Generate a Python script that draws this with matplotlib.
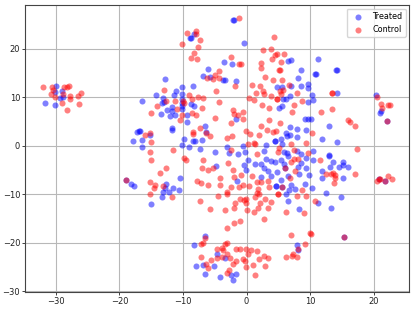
import matplotlib
matplotlib.use("Agg")
import matplotlib.pyplot as plt

treated_x = [
    -31.7, -30.1, -29.9, -30.1, -29.1, -29.4, -28.8, -17.9, -17.2, -16.9,
    -2.1, -1.9, -8.9, -8.7, -8.3, -0.4, -3.5, -2.3, -6.1, -6.9, -5.7, -3.7, -3.4, -1.6, -12.9,
    -10.2, -8.4, -11.1, -14.3, -13.2, -11.4, -16.4, -10.1, -10.1, -10.1, -10.1, -10.1, -13.3, -13.0, -12.5,
    -11.8, -11.8, -13.4, -12.1, -11.2, -8.8, -8.3, -9.4, -9.3, -11.8, -11.7, -6.5, -6.4, -9.8, -10.2,
    -9.1, -8.5, -8.1, -7.0, -7.3, -5.0, -3.0, -2.7, -0.5, -0.3, 3.0, 2.7, 4.4, 4.8, -1.7,
    -16.8, -16.5, -16.4, -15.2, -1.3, 5.1,
    11.2, 6.5, 7.0, 8.5, 10.8, 11.0, 14.0, 14.3, 8.1, 9.6, 9.6, 8.5, 7.0, 5.5, 10.3, 14.2, 6.8, 5.8, 6.2,
    9.7, 10.5, 5.5, 20.4, 21.1, 21.0, 9.2, 9.6, 10.1, 12.9, 6.8, 7.9, 9.3, 11.9, 14.2, 6.2, 6.8, 6.4, 7.9,
    5.4, 4.5, 5.5, 8.0, 10.4, 5.9, 6.3, 8.6, 13.0, 22.1,
    -18.9, -18.1, -17.7,
    -4.8, -10.5, -12.6, -12.9, -13.1, -12.2, -11.5, -10.6, -13.3, -15.1, -6.5, -8.2, -4.6, -3.4, -8.0, -6.8,
    -5.1, -6.5, -4.1, -2.5, -1.6, -2.1, -1.5, -0.1, -0.4, 0.3, 1.4, 2.2, 3.1, 2.8, 3.4, 3.9, 2.2, 4.8, 4.6, 3.9, 4.4,
    5.4, 5.9, 6.5, 9.4, 10.4, 8.5, 8.1, 9.4, 6.0, 8.3, 6.5, 9.9, 11.8, 11.8, 13.0, 13.6, 13.1, 14.5, 15.1, 15.2,
    16.0, 15.2, 5.4, 4.7, 7.0, 6.6, 7.6, 6.2, 9.2, 10.3, 12.5, 14.9, 11.3, 6.5, 8.2, 13.3, 7.9, 8.1, 20.8, 21.7,
    5.5, 15.3,
]
treated_y = [
    8.9, 8.4, 12.4, 11.0, 11.2, 9.9, 10.0, 0.9, 2.8, 3.0,
    26.0, 26.0, 22.1, 22.1, 23.1, 21.1, 17.2, 16.9, 15.8, 14.3, 14.2, 13.5, 13.5, 13.3, 13.8,
    12.1, 12.2, 11.3, 10.4, 9.9, 10.4, 9.3, 10.6, 9.6, 8.7, 8.2, 7.6, 8.7, 9.1, 7.4,
    7.9, 7.2, 6.5, 6.1, 6.3, 8.5, 8.2, 6.3, 4.9, 3.6, 3.2, 4.1, 2.8, 1.4, 0.1,
    -0.3, 1.0, 1.0, 1.1, -0.6, -1.2, -0.2, -1.6, -0.1, -1.2, 0.1, -1.1, 0.9, 12.0, 5.4,
    3.0, 1.2, -0.3, 2.1, -1.8, 7.7,
    17.9, 17.5, 17.6, 15.5, 14.8, 14.8, 15.5, 15.5, 14.0, 12.8, 11.8, 12.2, 12.4, 12.0, 10.4, 10.9, 10.2, 9.6, 9.7,
    9.1, 9.4, 8.2, 10.4, 7.2, 6.8, 5.6, 5.6, 5.6, 4.0, 3.8, 3.5, 3.2, 1.3, 0.8, 2.7, 2.3, 1.9, 1.7,
    1.3, 0.9, 0.3, -1.0, -1.1, -1.4, -1.6, -1.7, -2.0, 5.0,
    -7.0, -8.0, -8.4,
    -4.1, -6.6, -8.0, -8.8, -9.5, -9.5, -8.7, -9.1, -10.6, -12.0, -18.7, -20.4, -22.3, -23.2, -24.9, -24.5,
    -24.7, -26.5, -27.1, -26.7, -26.4, -27.6, -7.2, -5.0, -3.9, -3.0, -3.8, -3.8, -2.7, -4.7, -5.2, -6.2, -6.5, -5.5, -8.4, -3.2, -3.3,
    -3.0, -3.8, -2.1, -2.5, -3.0, -3.6, -4.3, -4.6, -4.5, -5.8, -6.3, -6.1, -5.2, -6.7, -2.2, -3.4, -4.3, -4.3, -4.0, -3.3,
    -4.3, -6.7, -7.1, -8.4, -8.2, -9.1, -9.0, -9.9, -8.0, -8.7, -9.8, -10.6, -11.8, -11.5, -13.1, -12.8, -20.5, -21.5, -6.9, -7.2,
    -8.6, -18.8,
]
control_x = [
    -32.0, -30.6, -30.8, -30.4, -30.1, -28.7, -28.3, -28.0, -28.8, -29.1, -27.8, -27.8, -28.2, -26.5, -26.1, -26.3,
    -1.2, -9.3, -8.0, -8.0, -7.3, -10.1, -7.6, -8.2, -8.8, -7.8, -2.5, -1.2, -0.8, 2.6, 3.9, 4.8, 4.4, 4.0, 2.3, 2.3,
    5.1, -4.3, -4.9, -4.3, -5.2, -6.2, 2.9, 4.1, 0.8, 2.1, -1.8, -13.0, -4.8, 1.5, 2.6, 2.7, 3.8, 0.4, 1.2,
    -9.1, -8.6, -7.7, -6.9, -12.6, -11.2, -10.0, -9.9, -14.1, -4.3, 2.4, 4.8, 3.6, -7.0, -10.9, -15.0,
    -2.1, -0.6, -1.9, -1.3, -10.1, -8.6, -8.0, -10.4, -5.0, -0.6, -2.4, 3.5, 2.3, -7.3, -8.5, -8.4, -6.4, -5.7,
    -3.1, -2.3, -0.1, 0.6, 2.0, 3.2, 4.1, 0.2, 1.2, 1.4, -16.0, -15.2, -15.1, -15.2, -11.5, -2.5, 1.7, 5.1,
    4.3, 5.9, 5.4, 5.2, 5.5, 6.7, 5.2, 5.8, 7.9, 13.4, 13.5, 5.4, 4.8, 8.8, 7.4, 7.1, 11.7, 13.4, 21.2, 21.3, 22.2, 22.6,
    5.3, 16.0, 16.3, 17.1, 4.6, 10.3, 7.0, 9.3, 17.4, 7.4, 9.7, 4.9, 20.5, 22.1,
    -18.9,
    -15.1, -9.8, -9.6, -6.9, -7.0, -12.7, -13.6, -6.0, -5.3, -15.2, -14.4, -14.6, -15.2, -13.1, -11.8, -7.8, -7.1, -6.0,
    -4.2, -4.1, -2.9, -2.1, -1.9, -0.8, 0.9, 1.7, 2.3, 3.3, 3.6, -2.4, -1.2, -0.5, 0.4, 1.8, 1.7, 1.3, 2.0, 2.9, 5.0,
    -4.5, -3.1, -3.0, -1.0, -0.4, -0.1, -1.8, -0.1, 2.1, 3.9, 3.4, 1.8, 1.2, -2.0, -3.4, -5.8, -7.3, 0.0, 2.8, -1.1,
    -2.0, -3.1, -6.5, -6.8, -7.2, -3.1, -3.4, -3.8, -4.7, -3.7, -1.6, -1.1, -0.1, 0.7, 1.7, 0.2, -3.0, -7.2, -5.6, -4.7,
    -3.9, -2.6, -0.6, -0.3, 2.0, 2.8, 3.3, -1.6, -2.1, 1.0, 2.9, -0.1, -6.3, -6.0, -2.7, -3.1, 1.3,
    7.0, 7.5, 8.1, 11.6, 6.0, 7.6, 6.8, 12.5, 13.3, 13.6, 13.9, 13.9, 13.8, 17.1, 8.8, 5.5, 5.0, 7.9, 9.3, 10.7,
    6.2, 9.1, 7.0, 10.0, 10.2, 15.3, 9.2, 8.1, 6.2, 7.1, 7.3, 8.0, 20.5, 21.0, 22.2, 22.9, 21.7, 20.8,
]
control_y = [
    12.0, 12.0, 10.7, 11.5, 10.1, 12.1, 12.0, 12.4, 10.6, 8.9, 10.2, 9.6, 7.4, 10.2, 10.9, 8.6,
    26.3, 23.2, 23.7, 23.0, 21.7, 21.0, 20.4, 19.2, 18.0, 17.8, 18.2, 16.8, 16.9, 19.7, 19.9, 18.9, 18.7, 17.9, 17.1, 16.0,
    15.6, 15.3, 14.6, 14.0, 13.7, 14.0, 14.1, 13.6, 12.5, 12.2, 12.2, 11.4, 11.2, 10.9, 11.3, 10.7, 10.3, 9.9, 9.4,
    10.5, 9.7, 10.1, 9.9, 9.3, 9.3, 9.3, 8.9, 8.2, 9.1, 8.4, 9.6, 7.8, 7.8, 7.6, 6.7,
    7.3, 7.0, 6.5, 6.3, 6.3, 6.7, 6.4, 5.3, 5.7, 5.4, 4.7, 5.3, 4.1, 3.7, 2.8, 2.5, 2.7, 2.0,
    1.5, 1.9, 3.1, 2.5, 2.2, 3.2, 2.8, 0.4, 0.6, 0.4, 2.2, 2.7, 0.7, -1.4, -0.9, -0.8, -1.7, -0.5,
    22.5, 19.0, 17.2, 15.6, 13.5, 12.5, 11.3, 11.4, 10.9, 10.9, 10.9, 10.6, 9.6, 9.2, 8.3, 6.9, 7.0, 7.6, 8.5, 7.8, 8.3, 8.4,
    4.7, 5.2, 4.8, 4.0, 3.0, 2.6, 0.4, 0.5, -0.7, -0.9, -1.5, -1.4, 10.0, 5.0,
    -7.0,
    -3.0, -2.6, -2.9, -3.0, -4.7, -4.6, -5.7, -5.1, -4.6, -7.4, -8.2, -8.7, -9.9, -8.3, -10.6, -7.2, -7.6, -8.2,
    -6.7, -8.2, -3.6, -5.0, -6.5, -6.0, -6.3, -7.4, -7.4, -7.3, -8.6, -8.5, -8.5, -8.1, -8.4, -8.9, -9.7, -10.5, -10.0, -10.9, -10.0,
    -10.3, -9.5, -10.0, -10.9, -11.1, -10.9, -11.8, -11.9, -11.9, -11.7, -12.8, -12.8, -13.7, -12.8, -13.2, -13.0, -11.4, -13.3, -15.1, -15.6,
    -16.0, -16.9, -19.0, -20.0, -20.3, -20.0, -20.3, -21.0, -21.4, -21.6, -21.4, -21.4, -21.4, -21.6, -21.8, -22.4, -22.4, -23.0, -23.6, -23.2,
    -22.9, -23.2, -23.4, -23.7, -23.4, -22.7, -23.2, -23.7, -24.3, -24.5, -24.9, -25.0, -24.3, -25.3, -25.7, -26.2, -26.7,
    -3.3, -2.7, -2.7, -3.0, -4.5, -5.2, -6.6, -5.9, -5.9, -5.6, -6.0, -6.7, -7.6, -5.8, -9.1, -8.6, -10.0, -10.3, -10.3, -11.4,
    -13.7, -13.9, -18.5, -17.9, -18.3, -18.8, -20.3, -21.2, -22.9, -22.7, -22.3, -23.0, -7.3, -6.8, -6.2, -6.8, -7.2, -6.9,
]
xticks = [-30, -20, -10, 0, 10, 20]
yticks = [-30, -20, -10, 0, 10, 20]

fig = plt.figure(figsize=(4.15, 3.10), dpi=100)
ax = fig.add_axes([25.3 / 415, 1 - 291.7 / 310, 384 / 415, 286.7 / 310])

ax.scatter(treated_x, treated_y, s=19, c="blue", alpha=0.5, linewidths=0, label="Treated")
ax.scatter(control_x, control_y, s=19, c="red", alpha=0.5, linewidths=0, label="Control")

ax.set_xlim(-34.8, 25.6)
ax.set_ylim(-30.1, 29)
ax.set_xticks(xticks)
ax.set_yticks(yticks)
ax.tick_params(labelsize=6, length=2.2, width=0.6, pad=1.5, colors="#222222")
ax.grid(True, color="#b8b8b8", lw=0.8)
ax.set_axisbelow(True)
for s in ax.spines.values():
    s.set_linewidth(0.8)
    s.set_color("#444444")
ax.legend(loc="upper right", fontsize=5.8, borderaxespad=0.45)

fig.savefig("out.png", dpi=100)
